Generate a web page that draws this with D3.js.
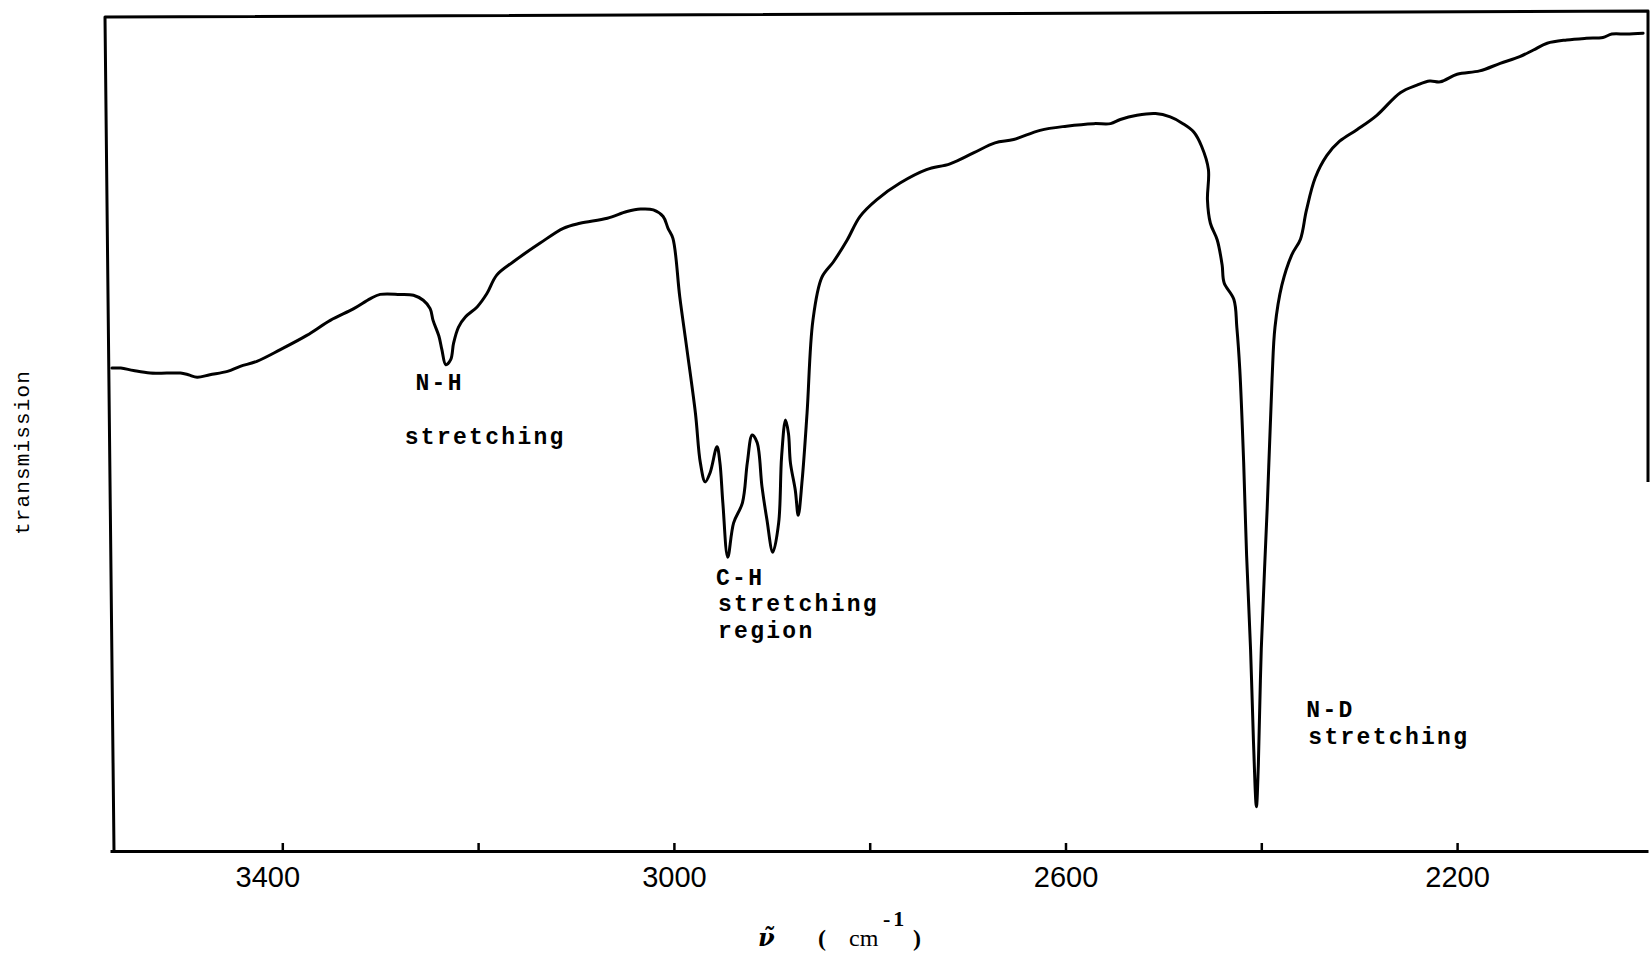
<!DOCTYPE html>
<html>
<head>
<meta charset="utf-8">
<script src="https://cdn.jsdelivr.net/npm/d3@7"></script>
<style>
  html, body { margin: 0; padding: 0; background: #fff; }
  svg { display: block; }
</style>
</head>
<body>
<div id="chart"></div>
<script>
// IR trace: wavenumber (cm-1) and transmission (0 = axis, 100 = top frame)
const wavenumber = [
  3574, 3565, 3552, 3535, 3518, 3504, 3496, 3487, 3474, 3456, 3443, 3426, 3402, 3375, 3351,
  3327, 3310, 3300, 3280, 3266, 3256, 3249, 3246, 3240, 3237, 3233, 3228, 3225, 3220, 3213,
  3201, 3191, 3181, 3164, 3137, 3113, 3096, 3068, 3048, 3034, 3021, 3011, 3006, 3001, 2994,
  2987, 2978, 2973, 2968, 2963, 2956, 2953, 2950, 2945, 2939, 2930, 2925, 2920, 2915, 2910,
  2905, 2899, 2893, 2890, 2886, 2883, 2881, 2876, 2873, 2869, 2864, 2858, 2849, 2837, 2823,
  2810, 2793, 2769, 2742, 2718, 2694, 2672, 2653, 2626, 2599, 2571, 2554, 2544, 2527, 2508,
  2493, 2480, 2469, 2461, 2454, 2455, 2452, 2445, 2440, 2438, 2428, 2425, 2422, 2418, 2415,
  2411, 2408, 2405, 2403, 2400, 2394, 2389, 2386, 2379, 2369, 2360, 2354, 2345, 2333, 2320,
  2302, 2282, 2258, 2241, 2228, 2217, 2200, 2177, 2156, 2136, 2122, 2108, 2088, 2068, 2051,
  2042, 2027, 2010
];
const transmission = [
  57.7, 57.7, 57.4, 57.1, 57.1, 57.1, 56.9, 56.6, 56.9, 57.3, 57.9, 58.5, 59.9, 61.6, 63.4,
  64.8, 66.0, 66.5, 66.5, 66.4, 65.8, 64.8, 63.4, 61.5, 59.9, 58.1, 58.7, 60.7, 62.6, 63.8,
  65.0, 66.6, 68.8, 70.4, 72.6, 74.4, 75.0, 75.6, 76.4, 76.7, 76.6, 75.8, 74.4, 73.2, 66.2,
  60.2, 52.3, 46.4, 44.1, 45.2, 48.3, 46.4, 41.6, 35.1, 39.2, 41.6, 46.4, 49.7, 48.8, 43.5,
  39.6, 35.7, 39.2, 47.1, 51.5, 49.9, 46.4, 43.1, 40.1, 44.3, 52.3, 63.4, 68.5, 70.4, 73.0,
  75.8, 77.8, 79.8, 81.4, 82.1, 83.4, 84.6, 85.0, 86.1, 86.6, 86.9, 86.9, 87.4, 87.9, 88.1,
  87.7, 86.9, 85.9, 84.2, 81.4, 77.8, 75.0, 73.0, 70.0, 67.9, 65.9, 62.6, 57.6, 46.4, 35.3,
  24.2, 13.1, 5.3, 10.3, 24.2, 40.9, 56.4, 62.6, 67.6, 71.2, 73.1, 76.5, 80.4, 83.1, 84.8,
  86.2, 87.9, 90.6, 91.5, 92.0, 91.9, 92.8, 93.2, 94.1, 94.9, 95.7, 96.5, 96.9, 97.1, 97.2,
  97.6, 97.6, 97.7
];

const tickValues = [3400, 3200, 3000, 2800, 2600, 2400, 2200];
const labeledTicks = [3400, 3000, 2600, 2200];

// band labels, anchored in data units (start of baseline)
const annotations = [
  { text: "N-H", wn: 3264, t: 55.1 },
  { text: "stretching", wn: 3275, t: 48.6 },
  { text: "C-H", wn: 2957, t: 31.8 },
  { text: "stretching", wn: 2955, t: 28.7 },
  { text: "region", wn: 2955, t: 25.4 },
  { text: "N-D", wn: 2354, t: 16.0 },
  { text: "stretching", wn: 2352, t: 12.8 }
];

const width = 1652;
const height = 954;
const plotLeft = 110, plotRight = 1648, plotTop = 14, plotBottom = 851;

const x = d3.scaleLinear().domain([3576, 2005]).range([plotLeft, plotRight]);
const y = d3.scaleLinear().domain([0, 100]).range([plotBottom, plotTop]);

const svg = d3.select("#chart").append("svg")
    .attr("width", width)
    .attr("height", height)
    .attr("viewBox", [0, 0, width, height]);

svg.append("rect").attr("width", width).attr("height", height).attr("fill", "#fff");

// frame: the scanned one is slightly skewed
const frame = d3.line();
svg.append("path")
    .attr("d", frame([[plotLeft + 4, plotBottom], [plotLeft - 5, plotTop + 3], [plotRight, plotTop - 3], [plotRight, 482]]))
    .attr("fill", "none")
    .attr("stroke", "#000")
    .attr("stroke-width", 3)
    .attr("stroke-linejoin", "round");

// bottom axis, ticks pointing up into the plot
const xAxis = svg.append("g")
    .attr("transform", `translate(0,${plotBottom})`)
    .call(d3.axisBottom(x)
        .tickValues(tickValues)
        .tickSizeInner(-8)
        .tickSizeOuter(0)
        .tickFormat(d => labeledTicks.includes(d) ? d : ""));

xAxis.select(".domain").attr("stroke", "#000").attr("stroke-width", 3);
xAxis.selectAll(".tick line").attr("stroke", "#000").attr("stroke-width", 2.5).attr("y2", -8);
xAxis.selectAll(".tick text")
    .attr("y", 15)
    .attr("dx", d => d === 3400 ? -15 : 0)   // typed a bit off its tick on the original
    .attr("fill", "#000")
    .attr("font-family", "'Liberation Sans', Arial, sans-serif")
    .attr("font-size", 29);

// spectrum
const line = d3.line()
    .x((d, i) => x(wavenumber[i]))
    .y(d => y(d))
    .curve(d3.curveCatmullRom.alpha(0.5));

svg.append("path")
    .datum(transmission)
    .attr("d", line)
    .attr("fill", "none")
    .attr("stroke", "#000")
    .attr("stroke-width", 3)
    .attr("stroke-linejoin", "round")
    .attr("stroke-linecap", "round");

// typewritten band labels
svg.append("g")
    .selectAll("text")
    .data(annotations)
    .join("text")
    .attr("x", d => x(d.wn))
    .attr("y", d => y(d.t))
    .attr("font-family", "'Liberation Mono', 'Courier New', monospace")
    .attr("font-size", 23)
    .attr("font-weight", "bold")
    .attr("letter-spacing", 2.3)
    .attr("fill", "#000")
    .text(d => d.text);

// y label
svg.append("text")
    .attr("transform", `translate(29,${(plotTop + plotBottom) / 2 + 20}) rotate(-90)`)
    .attr("text-anchor", "middle")
    .attr("font-family", "'Liberation Mono', 'Courier New', monospace")
    .attr("font-size", 21)
    .attr("letter-spacing", 1.15)
    .attr("fill", "#000")
    .text("transmission");

// x label: nu-tilde ( cm^-1 )
const xl = svg.append("text")
    .attr("y", 946)
    .attr("font-family", "'Liberation Serif', 'Times New Roman', serif")
    .attr("font-size", 24)
    .attr("font-weight", "bold")
    .attr("fill", "#000");
xl.append("tspan").attr("x", 758)
    .attr("font-family", "'DejaVu Serif', serif")
    .attr("font-style", "italic")
    .attr("font-size", 24)
    .text("\u03BD\u0303");
xl.append("tspan").attr("x", 818).text("(");
xl.append("tspan").attr("x", 849).attr("font-weight", "normal").text("cm");
xl.append("tspan").attr("x", 883).attr("dy", -20).attr("font-size", 22).attr("letter-spacing", 3).text("-1");
xl.append("tspan").attr("x", 913).attr("dy", 20).text(")");
</script>
</body>
</html>
